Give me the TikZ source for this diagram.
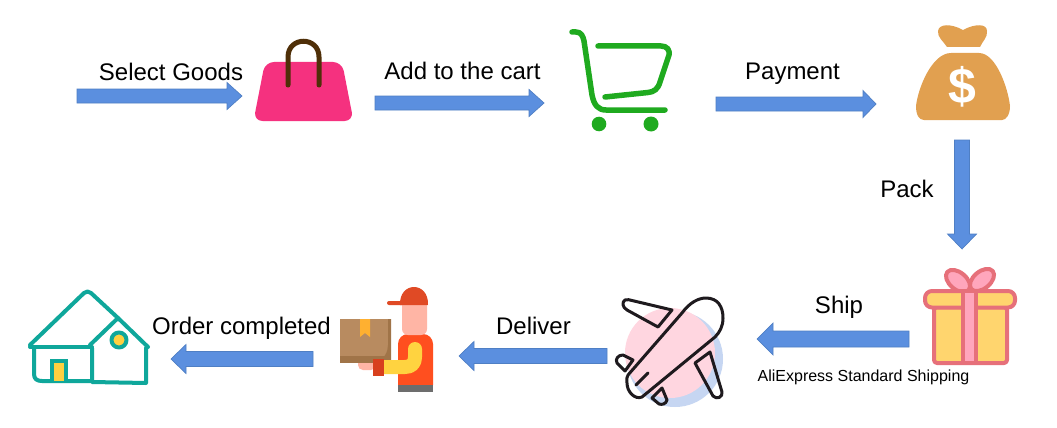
\documentclass[tikz,border=0pt]{standalone}
\usepackage{fontspec}
\setmainfont{Liberation Sans}
\usetikzlibrary{calc}
\definecolor{flowfill}{HTML}{5B8FDF}
\definecolor{flowedge}{HTML}{4F7FC4}
\definecolor{bagpink}{HTML}{F5317F}
\definecolor{bagbrown}{HTML}{4F2F08}
\definecolor{cartgreen}{HTML}{1FAA1F}
\definecolor{sackgold}{HTML}{E1A050}
\definecolor{giftline}{HTML}{E6707A}
\definecolor{giftyellow}{HTML}{FFD56E}
\definecolor{giftpink}{HTML}{FFA6BC}
\definecolor{planepink}{HTML}{FFD6E0}
\definecolor{planeblue}{HTML}{C6D6F2}
\definecolor{planeline}{HTML}{1E1A1E}
\definecolor{capred}{HTML}{E04A25}
\definecolor{skin}{HTML}{FFB5A5}
\definecolor{shirt}{HTML}{FF4F1F}
\definecolor{trim}{HTML}{6D6D6D}
\definecolor{sleeve}{HTML}{FFD340}
\definecolor{cuff}{HTML}{D8401E}
\definecolor{boxbrown}{HTML}{B88B60}
\definecolor{boxdark}{HTML}{A07448}
\definecolor{tagorange}{HTML}{FFB030}
\definecolor{houseteal}{HTML}{0FA79B}
\definecolor{houseyellow}{HTML}{FFD040}
\tikzset{
  flow/.style n args={3}{draw=flowedge,fill=flowfill,line width=0.7pt,line join=miter,
    to path={
      ($(\tikztostart)!#1pt!90:(\tikztotarget)$)
      -- ($(\tikztotarget)!#3pt!(\tikztostart)!#1pt!90:(\tikztotarget)$)
      -- ($(\tikztotarget)!#3pt!(\tikztostart)!#2pt!90:(\tikztotarget)$)
      -- (\tikztotarget)
      -- ($(\tikztotarget)!#3pt!(\tikztostart)!#2pt!-90:(\tikztotarget)$)
      -- ($(\tikztotarget)!#3pt!(\tikztostart)!#1pt!-90:(\tikztotarget)$)
      -- ($(\tikztostart)!#1pt!-90:(\tikztotarget)$)
      -- cycle}},
  lab/.style={anchor=base,inner sep=0pt,font=\fontsize{24}{24}\selectfont,text=black},
  smalllab/.style={anchor=base,inner sep=0pt,font=\fontsize{16}{16}\selectfont,text=black},
  cartline/.style={draw=cartgreen,line width=5.5pt,line cap=round,line join=round},
  giftshape/.style={draw=giftline,line width=4pt,line join=round},
  planestroke/.style={draw=planeline,line width=3pt,line cap=round,line join=round},
  housestroke/.style={draw=houseteal,line width=4pt,line cap=round,line join=round},
}
\begin{document}
\begin{tikzpicture}[x=1pt,y=-1pt]
\useasboundingbox[fill=white] (0,0) rectangle (1057,428);

% flow end points
\coordinate (a1s) at (77,96);   \coordinate (a1e) at (242,96);
\coordinate (a2s) at (375,103); \coordinate (a2e) at (544,103);
\coordinate (a3s) at (716,104); \coordinate (a3e) at (876,104);
\coordinate (a4s) at (962,140); \coordinate (a4e) at (962,249);
\coordinate (a5s) at (909,339); \coordinate (a5e) at (757,339);
\coordinate (a6s) at (607,356); \coordinate (a6e) at (459,356);
\coordinate (a7s) at (313,359); \coordinate (a7e) at (171,359);
\draw[flow={7}{13.5}{15}] (a1s) to (a1e);
\draw[flow={7}{13.5}{15}] (a2s) to (a2e);
\draw[flow={7}{13.5}{13}] (a3s) to (a3e);
\draw[flow={7.5}{14.5}{15}] (a4s) to (a4e);
\draw[flow={8}{16}{16}] (a5s) to (a5e);
\draw[flow={7.5}{14.5}{15}] (a6s) to (a6e);
\draw[flow={7.5}{14.5}{15}] (a7s) to (a7e);

% labels
\node[lab] (t1) at (171,81) {Select Goods};
\node[lab] (t2) at (462.5,80) {Add to the cart};
\node[lab] (t3) at (792.5,80) {Payment};
\node[lab] (t4) at (907,197) {Pack};
\node[lab] (t5) at (839,313) {Ship};
\node[lab] (t6) at (533.5,334) {Deliver};
\node[lab] (t7) at (241.5,334) {Order completed};
\node[smalllab] (t8) at (863.5,381) {AliExpress Standard Shipping};

% handbag
\fill[bagpink,rounded corners=9pt] (265,62) -- (342,62) -- (353.5,121) -- (253.5,121) -- cycle;
\draw[bagbrown,line width=5pt,line cap=round] (288,85) -- (288,57) .. controls (288,36) and (319,36) .. (319,57) -- (319,85);

% cart
\draw[cartline] (572,32) -- (576,32) .. controls (581,32) and (583,36) .. (584,41) -- (592,95) .. controls (594,105) and (598,110) .. (606,110) -- (665,110);
\draw[cartline] (598,46) -- (661,46) .. controls (667,46) and (670,50) .. (669,55) -- (660,82) .. controls (658,89) and (654,92) .. (648,92.5) -- (605,97);
\fill[cartgreen] (599,124) circle (7.3);
\fill[cartgreen] (651,124) circle (7.5);

% money sack
\fill[sackgold] (938,31) .. controls (939,24) and (950,23) .. (963,30) .. controls (976,23) and (987,24) .. (987,31) .. controls (988,37) and (982,42) .. (980,47) -- (947,47) .. controls (944,42) and (937,37) .. (938,31) -- cycle;
\fill[sackgold] (951,53) -- (979,53) .. controls (996,53) and (1008,88) .. (1010,106) .. controls (1010,115) and (1006,120) .. (1002,120) -- (924,120) .. controls (919,120) and (916,115) .. (916,106) .. controls (918,88) and (932,53) .. (951,53) -- cycle;
\node[inner sep=0pt,text=white,font=\bfseries\fontsize{50}{50}\selectfont] (dollar) at (962,87) {\$};

% gift
\draw[giftshape,fill=giftpink,rotate around={-40:(958,281)}] (958,281) ellipse (14 and 8.5);
\draw[giftshape,fill=giftpink,rotate around={40:(982,280)}] (982,280) ellipse (14 and 8.5);
\draw[giftshape,fill=giftyellow,rounded corners=3pt] (934,307) -- (1007,307) -- (1007,363) -- (934,363) -- cycle;
\draw[giftshape,fill=giftyellow,rounded corners=7pt] (925,291) rectangle (1015,307.5);
\draw[giftshape,fill=giftpink] (963,291) rectangle (976,363);

% plane
\fill[planeblue] (675,359) circle (48);
\fill[planepink] (670,353) circle (45);
\draw[planestroke] (628,375) -- (682,313) .. controls (690,302) and (699,298) .. (706,298) .. controls (718,298) and (723,307) .. (723,318) .. controls (723,326) and (720,332) .. (715,337) -- (642,397) .. controls (635,400) and (627,392) .. (627,383) .. controls (626,380) and (627,377) .. (628,375);
\draw[planestroke] (636,385) -- (648,373);
\draw[planestroke] (672,310) -- (658,327) -- (627,310) .. controls (622,307) and (622,302) .. (625,300) .. controls (627,299) and (630,300) .. (632,300.5) -- cycle;
\draw[planestroke] (695,363) -- (710,352) -- (722,392) .. controls (723,397) and (717,400) .. (713,396) -- cycle;
\draw[planestroke] (633,360) -- (625,371) -- (617,363) .. controls (615,359) and (618,355) .. (623,355) -- cycle;
\draw[planestroke] (662,388) -- (667,400) .. controls (666,404) and (662,405) .. (659,404) -- (652,398) -- cycle;

% courier
\fill[skin,rounded corners=5pt] (358,358) rectangle (376,370);
\fill[shirt,rounded corners=10pt] (398,395) -- (398,334) -- (433,334) -- (433,395) -- cycle;
\fill[white] (396,391.5) rectangle (435,397);
\fill[trim] (398,385) rectangle (433,391.5);
\fill[skin,rounded corners=6pt] (402,300) -- (427,300) -- (427,335) -- (402,335) -- cycle;
\fill[capred] (400,305) .. controls (399,281) and (429,281) .. (428,305) -- cycle;
\fill[capred,rounded corners=2pt] (387,301) rectangle (404,305);
\fill[boxbrown] (340,319) rectangle (391,363);
\fill[boxdark] (340,356) rectangle (391,363);
\fill[boxdark] (391,319) -- (391,363) -- (375,363) .. controls (384,360) and (388,352) .. (388,345) -- (388,319) -- cycle;
\fill[tagorange] (360,319) -- (370,319) -- (370,337) -- (365,333) -- (360,337) -- cycle;
\draw[sleeve,line width=14pt,line cap=round,line join=round] (415,349) -- (415,357) .. controls (415,363) and (412,367) .. (405,367) -- (380,367);
\fill[cuff] (373,358.5) rectangle (383.5,376);

% house
\draw[housestroke] (30,345) -- (84,293) .. controls (86,291) and (89,291) .. (91,293) -- (118,318);
\draw[housestroke] (30,347) -- (92,347);
\draw[housestroke] (34,348) -- (34,374) .. controls (34,379) and (37,381) .. (42,381) -- (92,381);
\draw[housestroke] (92,348) -- (92,382) -- (146,383) -- (146,348);
\draw[housestroke] (90,345) -- (118,318) -- (148,347);
\draw[housestroke,fill=houseyellow] (119,340) circle (7.5);
\draw[housestroke,fill=houseyellow,line cap=butt,line join=miter] (52,381) -- (52,361) -- (66,361) -- (66,381);
\end{tikzpicture}
\end{document}
